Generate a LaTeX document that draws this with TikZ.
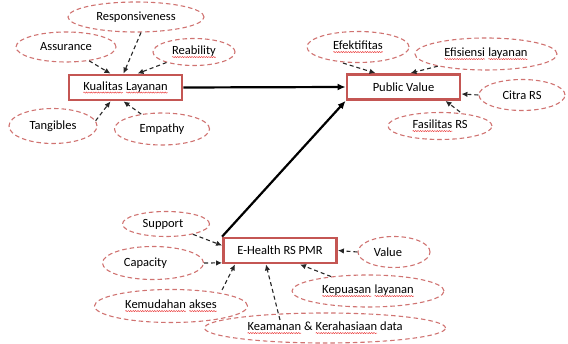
\documentclass[tikz,border=0pt]{standalone}
\usepackage{fontspec}
\setmainfont{Carlito}
\usetikzlibrary{shapes.geometric,arrows.meta,decorations.pathmorphing}
\definecolor{boxred}{RGB}{196,86,83}
\definecolor{ellred}{RGB}{208,115,113}
\definecolor{spellred}{RGB}{235,60,60}
\tikzset{
  mainbox/.style={rectangle, draw=boxred, line width=2.8pt,
    fill=white, minimum width=113pt, minimum height=25pt, inner sep=0pt, font=\fontsize{12.5pt}{14pt}\selectfont},
  factor/.style={ellipse, draw=ellred, dash pattern=on 4.5pt off 3pt, line width=1.1pt,
    inner sep=0pt, font=\fontsize{12.5pt}{14pt}\selectfont},
  dasharrow/.style={draw=black!85, dash pattern=on 4pt off 3pt, line width=1.1pt,
    -{Latex[length=6pt,width=5.5pt]}},
  mainarrow/.style={draw=black, line width=2.2pt, -{Latex[length=8pt,width=7pt]}},
  squig/.style={draw=spellred, solid, line width=0.45pt,
    decorate, decoration={snake, amplitude=0.6pt, segment length=2.4pt}},
  sqword/.style={shape=rectangle, draw=none, fill=none, inner sep=0pt, outer sep=0pt,
    minimum width=0pt, minimum height=0pt, anchor=base}
}
\newcommand\sqg[1]{\tikz[baseline=(sqgt.base)]{\node[sqword] (sqgt) at (0,0) {#1};
  \draw[squig] ([yshift=-2.3pt]sqgt.base west) -- ([yshift=-2.3pt]sqgt.base east);}}
\begin{document}
\begin{tikzpicture}[x=1pt,y=-1pt]
\useasboundingbox (0,0) rectangle (568,344);
% main boxes
\node[mainbox] (kl) at (125.5,87.5) {\sqg{Kualitas} \sqg{Layanan}};
\node[mainbox] (pv) at (403.5,87) {Public Value};
\node[mainbox] (eh) at (280,250.5) {E-Health RS PMR};
% factors
\node[factor, minimum width=136pt, minimum height=30pt] (resp) at (136,17) {Responsiveness};
\node[factor, minimum width=100pt, minimum height=30pt] (assur) at (66,47) {Assurance};
\node[factor, minimum width=82pt, minimum height=27pt] (reab) at (194,52) {\sqg{Reability}};
\node[factor, minimum width=88pt, minimum height=35pt] (tang) at (53,126) {Tangibles};
\node[factor, minimum width=95pt, minimum height=32pt] (emp) at (162,129) {Empathy};
\node[factor, minimum width=102pt, minimum height=31pt] (efek) at (358,47) {\sqg{Efektifitas}};
\node[factor, minimum width=142pt, minimum height=32pt] (efis) at (486,54) {\sqg{Efisiensi} \sqg{layanan}};
\node[factor, minimum width=86pt, minimum height=31pt] (citra) at (522,95) {Citra RS};
\node[factor, minimum width=104pt, minimum height=27pt] (fas) at (440,126) {\sqg{Fasilitas} RS};
\node[factor, minimum width=87pt, minimum height=25pt] (supp) at (166,224) {Support\kern6pt};
\node[factor, minimum width=101pt, minimum height=33pt] (cap) at (153,263) {Capacity\kern15pt};
\node[factor, minimum width=153pt, minimum height=33pt] (kem) at (171,306) {\sqg{Kemudahan} \sqg{akses}};
\node[factor, minimum width=241pt, minimum height=30pt] (keam) at (325,328) {\sqg{Keamanan} \& \sqg{Kerahasiaan} data};
\node[factor, minimum width=72pt, minimum height=31pt] (val) at (394,252) {Value\kern12pt};
\node[factor, minimum width=152pt, minimum height=32pt] (kep) at (368,291) {\sqg{Kepuasan} \sqg{layanan}};
% dashed arrows
\draw[dasharrow] ([xshift=5pt]resp.south) -- ([xshift=-2pt]kl.north);
\draw[dasharrow] (assur) -- ([xshift=-15pt]kl.north);
\draw[dasharrow] (reab) -- ([xshift=12pt]kl.north);
\draw[dasharrow] (tang.7) -- ([xshift=-15pt]kl.south);
\draw[dasharrow] (emp) -- ([xshift=-2pt]kl.south);
\draw[dasharrow] ([xshift=-15pt]efek.south) -- ([xshift=-28pt]pv.north);
\draw[dasharrow] (efis) -- ([xshift=7pt]pv.north);
\draw[dasharrow] (citra.west) -- ([yshift=-7pt]pv.east);
\draw[dasharrow] ([xshift=20pt]fas.north) -- ([xshift=42pt]pv.south);
\draw[dasharrow] (supp) -- ([yshift=5pt]eh.west);
\draw[dasharrow] (cap.east) -- ([yshift=1.5pt]eh.south west);
\draw[dasharrow] ([xshift=51pt,yshift=16pt]kem.center) -- ([xshift=-45pt]eh.south);
\draw[dasharrow] ([xshift=-45pt,yshift=8pt]keam.center) -- ([xshift=-14pt]eh.south);
\draw[dasharrow] (kep) -- ([xshift=20pt]eh.south);
\draw[dasharrow] (val.west) -- (eh.east);
% main arrows
\draw[mainarrow] (kl.east) -- (pv.west);
\draw[mainarrow] (eh.north west) -- (pv.south west);
\end{tikzpicture}
\end{document}
